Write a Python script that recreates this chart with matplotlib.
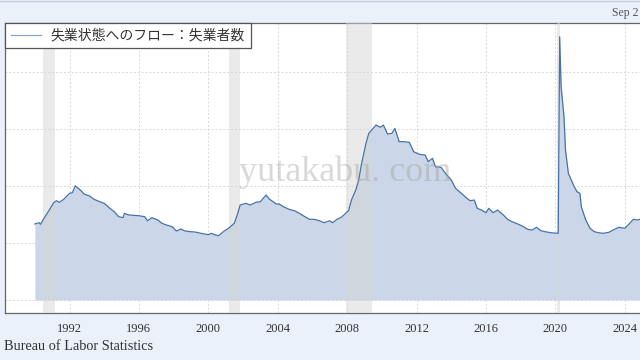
import matplotlib
matplotlib.use("Agg")
import matplotlib.pyplot as plt
import pandas as pd

# Flows into unemployment (thousands)
dates = ["1990-01", "1990-04", "1990-05", "1990-07", "1990-11", "1991-02", "1991-04", "1991-06", "1991-09",
         "1992-01", "1992-03", "1992-05", "1992-07", "1992-09", "1992-11", "1993-03", "1993-06", "1993-10",
         "1994-01", "1994-05", "1994-08", "1994-11", "1995-02", "1995-03", "1995-06", "1995-09",
         "1996-01", "1996-05", "1996-07", "1996-10", "1997-02", "1997-05", "1997-08", "1997-12",
         "1998-03", "1998-06", "1998-09", "1999-01", "1999-04", "1999-08",
         "2000-01", "2000-03", "2000-06", "2000-08", "2000-12", "2001-03", "2001-07", "2001-09", "2001-11",
         "2002-03", "2002-06", "2002-10", "2003-01", "2003-05", "2003-07", "2003-12",
         "2004-02", "2004-05", "2004-09", "2005-01", "2005-04", "2005-07", "2005-11",
         "2006-02", "2006-06", "2006-09", "2007-01", "2007-03", "2007-06", "2007-09", "2007-12",
         "2008-02", "2008-04", "2008-07", "2008-09", "2008-11", "2009-02", "2009-04", "2009-06", "2009-09", "2009-12",
         "2010-02", "2010-05", "2010-08", "2010-10", "2011-01", "2011-04", "2011-08", "2011-11",
         "2012-03", "2012-07", "2012-09", "2012-12", "2013-02", "2013-06", "2013-09",
         "2014-01", "2014-04", "2014-08", "2014-11", "2015-02", "2015-05", "2015-07", "2015-10",
         "2016-01", "2016-03", "2016-06", "2016-09", "2017-01", "2017-04", "2017-07", "2017-11",
         "2018-02", "2018-06", "2018-09", "2018-12", "2019-03", "2019-06", "2019-10",
         "2020-03", "2020-04", "2020-05", "2020-07", "2020-08", "2020-10", "2020-12",
         "2021-02", "2021-04", "2021-06", "2021-07", "2021-10",
         "2022-01", "2022-04", "2022-07", "2022-10", "2023-02", "2023-05", "2023-09",
         "2024-01", "2024-04", "2024-07", "2024-10", "2025-01", "2025-04", "2025-08"]
values = [6670, 6780, 6640, 7080, 7890, 8530, 8710, 8570, 8830,
          9360, 9410, 10020, 9800, 9590, 9300, 9120, 8830, 8620,
          8480, 8040, 7740, 7310, 7220, 7600, 7460, 7430,
          7390, 7310, 6950, 7220, 7020, 6730, 6580, 6430,
          6050, 6230, 6050, 5990, 5960, 5850,
          5730, 5850, 5700, 5640, 6050, 6290, 6730, 7460, 8330,
          8480, 8330, 8570, 8620, 9210, 8880, 8420,
          8420, 8180, 7950, 7810, 7600, 7370, 7080,
          7080, 6950, 6780, 6950, 6780, 7080, 7250, 7600,
          7850, 8770, 9650, 10530, 11990, 13750, 14620, 14910, 15350, 15150,
          15350, 14560, 14620, 15060, 13890, 13890, 13830, 13010,
          12780, 12720, 12130, 12430, 11690, 11640, 11110,
          10530, 9800, 9360, 9010, 8710, 8770, 8040, 7890,
          7660, 8040, 7660, 7890, 7460, 7080, 6870, 6670,
          6490, 6200, 6140, 6380, 6080, 5990, 5900,
          5850, 23100, 18710, 16080, 13160, 11110, 10530,
          9940, 9500, 9360, 8180, 7020,
          6290, 5990, 5900, 5850, 5940, 6140, 6380,
          6290, 6670, 7080, 7020, 7150, 7250, 7300]

recessions = [("1990-07", "1991-03"), ("2001-03", "2001-11"),
              ("2007-12", "2009-06"), ("2020-02", "2020-04")]
tick_years = [1992, 1996, 2000, 2004, 2008, 2012, 2016, 2020, 2024]
series_label = "失業状態へのフロー：失業者数"

bg = "#eaf1fa"
plt.rcParams["font.family"] = ["Liberation Serif", "Noto Sans CJK JP", "DejaVu Sans"]

x = pd.to_datetime(dates)

fig = plt.figure(figsize=(6.4, 3.6), dpi=100, facecolor=bg)
ax = fig.add_axes([5 / 640, 47 / 360, 660 / 640, 290 / 360])
ax.set_facecolor("white")

ax.fill_between(x, 0, values, color="#cbd7e8", lw=0, zorder=2)
ax.plot(x, values, color="#4572a7", lw=0.9, zorder=4, label=series_label)
for start, end in recessions:
    ax.axvspan(pd.Timestamp(start), pd.Timestamp(end), color="#d6d6d6", alpha=0.5, lw=0, zorder=3)

ax.set_xlim(pd.Timestamp("1988-04-13"), pd.Timestamp("2026-04-27"))
ax.set_ylim(-1140, 24300)
ax.set_yticks([0, 5000, 10000, 15000, 20000])
ax.set_yticklabels([])
ax.set_xticks([pd.Timestamp(f"{y}-01-01") for y in tick_years])
ax.set_xticklabels([str(y) for y in tick_years])
ax.tick_params(axis="both", length=0)
ax.tick_params(axis="x", pad=7, labelsize=9, labelcolor="#333333")
ax.grid(True, color="#d8d8d8", ls=(0, (2, 2)), lw=0.7, zorder=1)
for s in ax.spines.values():
    s.set_color("#666666")
    s.set_linewidth(0.9)

leg = ax.legend(loc="upper left", bbox_to_anchor=(0, 1), borderaxespad=0,
                fancybox=False, edgecolor="#555555", framealpha=1,
                handlelength=2.2, handletextpad=0.7, borderpad=0.4,
                prop={"family": ["Noto Sans CJK JP"], "size": 10})
leg.get_lines()[0].set_color("#8aa3cc")
leg.get_frame().set_linewidth(0.9)
for t in leg.get_texts():
    t.set_color("#333333")

ax.text(0.515, 0.486, "yutakabu. com", transform=ax.transAxes, ha="center", va="center",
        family="Liberation Serif", fontsize=26, color="#9a9a9a", alpha=0.38, zorder=5)

fig.text(638 / 640, 1 - 13 / 360, "Sep 2", ha="right", va="center", fontsize=8.5, color="#555555")
fig.text(4 / 640, 1 - 346 / 360, "Bureau of Labor Statistics", ha="left", va="center",
         fontsize=10.3, color="#333333")
fig.add_artist(plt.Line2D([0, 1], [0.998, 0.998], color="#c5cfdb", lw=1))

fig.savefig("out.png", dpi=100, facecolor=bg)
